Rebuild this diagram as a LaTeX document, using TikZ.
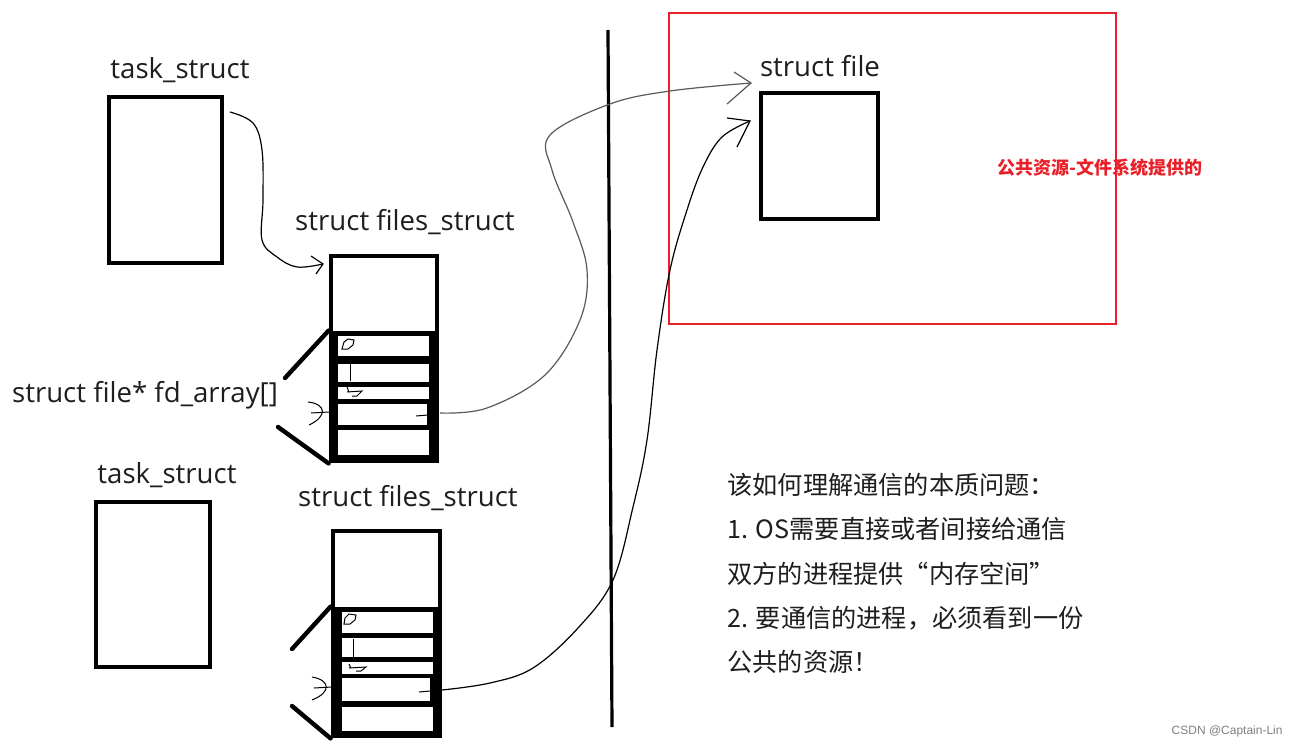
\documentclass[tikz,border=0pt]{standalone}
\usepackage{fontspec}
\setmainfont{Open Sans}
\newfontfamily\cjk{Noto Sans CJK SC}
\newfontfamily\wm{Liberation Sans}
\usetikzlibrary{arrows.meta}
\definecolor{redbox}{HTML}{E8202A}
\definecolor{txt}{HTML}{1E1E1E}
\definecolor{grayline}{HTML}{5A5A5A}
\tikzset{
  box/.style={draw=black, line width=2pt, fill=white, inner sep=0pt},
  frame/.style={fill=black, draw=none, inner sep=0pt},
  slot/.style={fill=white, draw=none, inner sep=0pt},
  lbl/.style={font=\fontsize{13.8pt}{16pt}\selectfont, text=txt, inner sep=0pt},
  fan/.style={line width=2.2pt, line cap=round},
  hand/.style={line width=0.6pt, black},
  scrib/.style={line width=0.5pt, black},
  cjktxt/.style={font=\cjk\fontsize{12.6pt}{15pt}\selectfont, text=txt, inner sep=0pt, anchor=west},
}
\begin{document}
\begin{tikzpicture}[x=0.5pt,y=-0.5pt]
\useasboundingbox (0,0) rectangle (1298,750);
\fill[white] (0,0) rectangle (1298,750);

% ---------- group 1 ----------
\node[lbl] (l1) at (180,70) {task\_struct};
\node[box, minimum width=56.5pt, minimum height=83pt] (ts1) at (165.5,180) {};
\node[lbl] (l2) at (405,222) {struct files\_struct};
\node[box, minimum width=53pt, minimum height=39pt] (fs1) at (384,294.5) {};
\node[frame, minimum width=55pt, minimum height=66pt] (fa1) at (384,397) {};
\node[slot, minimum width=45.5pt, minimum height=10pt] (a1s1) at (383.5,346) {};
\node[slot, minimum width=45.5pt, minimum height=9pt] (a1s2) at (383.5,373) {};
\node[slot, minimum width=45.5pt, minimum height=6pt] (a1s3) at (383.5,393) {};
\node[slot, minimum width=44.5pt, minimum height=10.5pt] (a1s4) at (382.5,414.5) {};
\node[slot, minimum width=45.5pt, minimum height=12.5pt] (a1s5) at (383.5,442.5) {};
\draw[fan] (fa1.north west) -- (285,378);
\draw[fan] (278,427) -- (fa1.south west);
\node[lbl] (l3) at (145,395) {struct file* fd\_array[]};
% scribbles
\draw[scrib] (344,342) -- (348,339) -- (354,340) -- (353,345) -- (348,349) -- (342,349) -- cycle;
\draw[scrib] (350,362) -- (350,381);
\draw[scrib] (347,387) -- (349,392) (347,392) -- (362,391) -- (357,396) -- (352,396);
\draw[scrib] (308,402) .. controls (326,404) and (328,416) .. (309,425);
\draw[scrib] (311,413) -- (329,412);
\draw[scrib] (416,416) -- (428,415);

% ---------- group 2 ----------
\node[lbl] (l4) at (167,475) {task\_struct};
\node[box, minimum width=57pt, minimum height=82.5pt] (ts2) at (153,584.5) {};
\node[lbl] (l5) at (408,498) {struct files\_struct};
\node[box, minimum width=53.5pt, minimum height=39pt] (fs2) at (386.5,569.5) {};
\node[frame, minimum width=55.5pt, minimum height=65.5pt] (fa2) at (386.5,672.5) {};
\node[slot, minimum width=45.5pt, minimum height=10.5pt] (a2s1) at (387.5,622.5) {};
\node[slot, minimum width=45.5pt, minimum height=9.5pt] (a2s2) at (387.5,647.5) {};
\node[slot, minimum width=45.5pt, minimum height=6pt] (a2s3) at (387.5,668) {};
\node[slot, minimum width=44pt, minimum height=11.5pt] (a2s4) at (386,689.5) {};
\node[slot, minimum width=45.5pt, minimum height=12pt] (a2s5) at (387.5,719) {};
\draw[fan] (fa2.north west) -- (292,649);
\draw[fan] (292,706) -- (fa2.south west);
% scribbles
\draw[scrib] (345,618) -- (349,614) -- (356,615) -- (355,620) -- (350,624) -- (344,624) -- cycle;
\draw[scrib] (353,639) -- (353,657);
\draw[scrib] (349,664) -- (351,668) (349,668) -- (366,667) -- (361,671) -- (356,671);
\draw[scrib] (312,677) .. controls (330,680) and (332,692) .. (312,700);
\draw[scrib] (314,688) -- (332,687);
\draw[scrib] (419,692) -- (430,691);

% ---------- divider ----------
\coordinate (vtop) at (608,30);
\coordinate (vbot) at (612,727);
\draw[line width=1.6pt] (vtop) -- (vbot);

% ---------- shared file ----------
\node[draw=redbox, line width=1.25pt, minimum width=223.5pt, minimum height=155.5pt, inner sep=0pt] (red) at (892.5,168.5) {};
\node[lbl] (l6) at (820,66) {struct file};
\node[box, minimum width=58.5pt, minimum height=63pt] (sf) at (819.5,156) {};
\node[font=\cjk\bfseries\fontsize{9pt}{10pt}\selectfont, text=redbox, inner sep=0pt] (rt) at (1100,168) {公共资源-文件系统提供的};

% ---------- connectors ----------
\coordinate (c1s) at (230,112);
\coordinate (c1e) at (323,264);
\draw[hand] plot[smooth, tension=0.6] coordinates {(c1s) (253,123) (262,150) (263,200) (262,240) (277,257) (297,267) (c1e)};
\draw[hand] (311,256) -- (c1e) -- (316,274);

\coordinate (c2s) at (440,413);
\coordinate (c2e) at (751,83);
\draw[line width=0.6pt, grayline] plot[smooth, tension=0.6] coordinates {(c2s) (487,408) (545,375) (580,320) (587,270) (573,222) (552,170) (550,135) (610,104) (670,91) (c2e)};
\draw[line width=0.6pt, grayline] (734,72) -- (c2e) -- (727,104);

\coordinate (c3s) at (442,690);
\coordinate (c3e) at (750,121);
\draw[hand] plot[smooth, tension=0.6] coordinates {(c3s) (490,683) (533,668) (578,628) (613,580) (633,507) (647,440) (657,350) (670,270) (687,210) (703,167) (722,137) (c3e)};
\draw[hand] (727,118) -- (c3e) -- (737,147);

% ---------- explanation ----------
\node[cjktxt] (t1) at (727,485) {该如何理解通信的本质问题：};
\node[cjktxt] (t2) at (727,529) {1. OS需要直接或者间接给通信};
\node[cjktxt] (t3) at (727,574) {双方的进程提供“内存空间”};
\node[cjktxt] (t4) at (727,618) {2. 要通信的进程，必须看到一份};
\node[cjktxt] (t5) at (727,662) {公共的资源！};

\node[font=\wm\fontsize{6pt}{7pt}\selectfont, text=black!50, inner sep=0pt, anchor=east] (wmk) at (1283,731) {CSDN @Captain-Lin};
\end{tikzpicture}
\end{document}
